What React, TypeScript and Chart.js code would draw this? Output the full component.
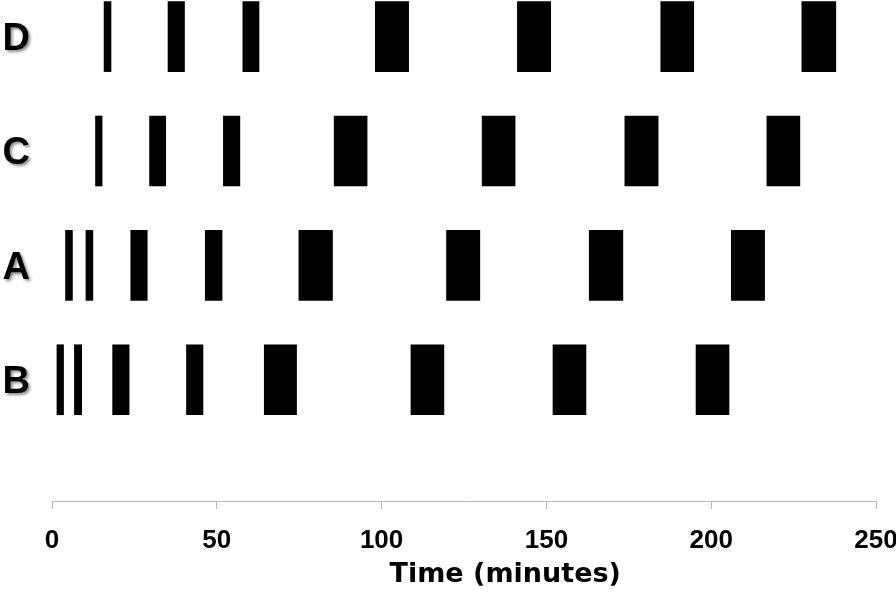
import React, { useEffect, useRef } from 'react';
import { Chart, registerables } from 'chart.js';

Chart.register(...registerables);

// Rows, top to bottom
const rowLabels = ['D', 'C', 'A', 'B'];
const rowValues = [4, 3, 2, 1];

// Burst intervals [start, end] in minutes, per row
const burstsD = [[15.8, 17.9], [35.2, 40.2], [57.9, 62.8], [98.1, 108.2], [141.2, 151.3], [184.7, 194.7], [227.5, 237.8]];
const burstsC = [[13.2, 15.2], [29.6, 34.5], [52.0, 57.0], [85.6, 95.6], [130.5, 140.5], [173.8, 183.9], [216.9, 226.9]];
const burstsA = [[4.1, 6.2], [10.3, 12.4], [23.9, 28.9], [46.5, 51.6], [74.9, 85.1], [119.7, 129.8], [163.0, 173.2], [206.1, 216.2]];
const burstsB = [[1.5, 3.5], [6.8, 9.0], [18.4, 23.4], [40.8, 45.8], [64.4, 74.2], [108.9, 118.9], [152.0, 162.0], [195.4, 205.4]];

const xMin = 0;
const xMax = 250;
const xStep = 50;
const xTitle = 'Time (minutes)';

const allBursts = [burstsD, burstsC, burstsA, burstsB];

const labelShadowPlugin = {
  id: 'labelShadow',
  beforeDraw(chart: any) {
    const s: any = chart.scales.y;
    if (s && !s.__shadowed) {
      const orig = s.drawLabels.bind(s);
      s.drawLabels = (area: any) => {
        const ctx = chart.ctx;
        ctx.save();
        ctx.shadowColor = 'rgba(0,0,0,0.45)';
        ctx.shadowBlur = 3;
        ctx.shadowOffsetX = 2;
        ctx.shadowOffsetY = 2;
        orig(area);
        ctx.restore();
      };
      s.__shadowed = true;
    }
  },
};

const axisTitlePlugin = {
  id: 'axisTitleCustom',
  afterDraw(chart: any) {
    const { ctx, chartArea } = chart;
    ctx.save();
    ctx.font = 'bold 27px "DejaVu Sans"';
    ctx.fillStyle = '#000000';
    ctx.textAlign = 'center';
    ctx.textBaseline = 'alphabetic';
    ctx.fillText(xTitle, chartArea.left + chartArea.width * 0.55, chart.height - 14);
    ctx.restore();
  },
};

export default function App() {
  const canvasRef = useRef<HTMLCanvasElement | null>(null);

  useEffect(() => {
    if (!canvasRef.current) return;
    const datasets = allBursts.map((bursts, r) => ({
      label: rowLabels[r],
      data: bursts.map(([s, e]) => ({ x: [s, e], y: rowValues[r] })),
      backgroundColor: '#000000',
      borderWidth: 0,
      barThickness: 70,
      grouped: false,
    }));

    const chart = new Chart(canvasRef.current, {
      type: 'bar',
      data: { datasets: datasets as any },
      plugins: [labelShadowPlugin, axisTitlePlugin],
      options: {
        indexAxis: 'y',
        animation: false,
        responsive: false,
        maintainAspectRatio: false,
        layout: { padding: { left: 0, right: 20, top: 0, bottom: 0 } },
        plugins: {
          legend: { display: false },
          tooltip: { enabled: false },
          title: { display: false },
        },
        scales: {
          x: {
            type: 'linear',
            min: xMin,
            max: xMax,
            ticks: {
              stepSize: xStep,
              color: '#000000',
              padding: 16,
              font: { family: '"Liberation Sans", Arial, sans-serif', size: 26, weight: 'bold' },
            },
            grid: {
              drawOnChartArea: false,
              drawTicks: true,
              tickLength: 8,
              color: '#b8b8b8',
              lineWidth: 1,
            },
            border: { display: true, color: '#b8b8b8', width: 1 },
            afterFit: (scale: any) => {
              scale.height = 95;
              scale.paddingLeft = 0;
              scale.paddingRight = 0;
            },
          },
          y: {
            type: 'linear',
            min: -0.06,
            max: 4.32,
            offset: false,
            grid: { display: false, drawTicks: false, offset: false },
            border: { display: false },
            afterBuildTicks: (scale: any) => {
              scale.ticks = rowValues.map((v) => ({ value: v }));
            },
            ticks: {
              color: '#000000',
              padding: 22,
              labelOffset: 3,
              font: { family: '"Liberation Sans", Arial, sans-serif', size: 38, weight: 'bold' },
              callback: (v: any) => {
                const i = rowValues.indexOf(Number(v));
                return i >= 0 ? rowLabels[i] : '';
              },
            },
            afterFit: (scale: any) => {
              scale.width = 52;
              scale.paddingTop = 0;
              scale.paddingBottom = 0;
            },
          },
        },
      } as any,
    });
    return () => chart.destroy();
  }, []);

  return (
    <div style={{ position: 'absolute', left: 0, top: 0, width: 896, height: 596, background: '#ffffff' }}>
      <canvas ref={canvasRef} width={896} height={596} style={{ display: 'block' }} />
    </div>
  );
}
